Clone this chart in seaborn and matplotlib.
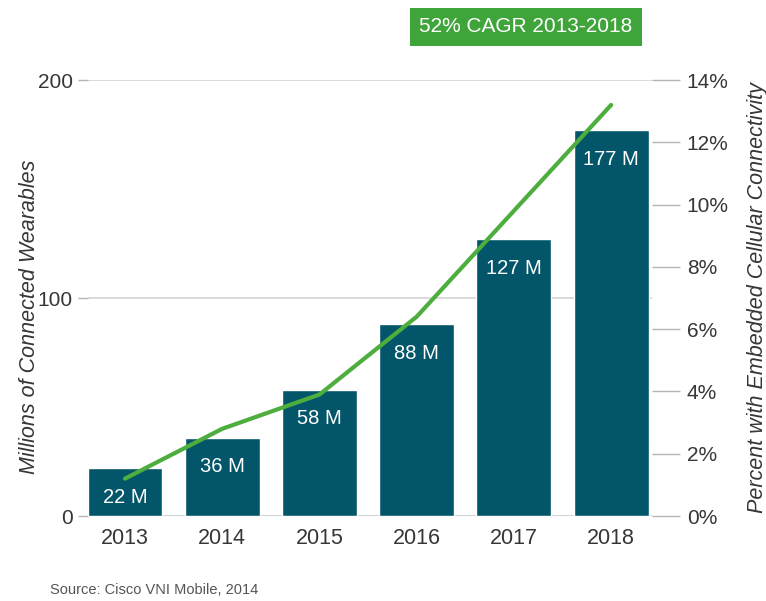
import numpy as np
import pandas as pd
import matplotlib
matplotlib.use("Agg")
import matplotlib.pyplot as plt
import seaborn as sns

# -----------------------------
# Data
# -----------------------------
years = ["2013", "2014", "2015", "2016", "2017", "2018"]
wearables_m = [22, 36, 58, 88, 127, 177]
cellular_pct = [1.2, 2.8, 3.9, 6.4, 9.8, 13.2]
bar_labels = ["22 M", "36 M", "58 M", "88 M", "127 M", "177 M"]

bar_color = "#03566a"
line_color = "#4dad3d"
box_color = "#3fa53a"
gray = "#b5b5b5"
text_color = "#363636"

sns.set_style("white")
plt.rcParams["font.family"] = ["Liberation Sans", "DejaVu Sans"]

df = pd.DataFrame({"year": years, "wearables": wearables_m, "pct": cellular_pct})

fig = plt.figure(figsize=(7.66, 6.01), dpi=100)
# axes box: x 88..652 px, y 80..516 px
ax = fig.add_axes([88 / 766, 1 - 516 / 601, 564 / 766, 436 / 601])

# -----------------------------
# Bars
# -----------------------------
sns.barplot(data=df, x="year", y="wearables", color=bar_color, saturation=1,
            width=0.77, ax=ax, zorder=2)
ax.set_ylim(0, 200)
ax.set_xlim(-0.38, 5.42)
ax.set_yticks([0, 100, 200])
ax.yaxis.grid(True, color="#d3d3d3", linewidth=1.2, zorder=0)
ax.set_axisbelow(True)
for s in ax.spines.values():
    s.set_visible(False)
ax.axhline(0, color=gray, linewidth=1, zorder=1)
ax.tick_params(axis="y", length=7, width=1, color=gray, pad=4,
               labelsize=15, labelcolor=text_color, left=True)
ax.tick_params(axis="x", length=0, pad=9, labelsize=15.5, labelcolor=text_color)
ax.set_xlabel("")
ax.set_ylabel("Millions of Connected Wearables", fontsize=15.5, style="italic",
              color=text_color)
ax.yaxis.label.set_va("center")
ax.yaxis.set_label_coords((30 - 88) / 564, (516 - 317) / 436)

for i, (v, lab) in enumerate(zip(wearables_m, bar_labels)):
    ax.annotate(lab, (i, v), xytext=(0, -21), textcoords="offset points",
                ha="center", va="center", color="white", fontsize=14.5)

# -----------------------------
# Line (right axis)
# -----------------------------
ax2 = ax.twinx()
sns.lineplot(x=np.arange(len(years)), y=cellular_pct, color=line_color,
             linewidth=3, ax=ax2, zorder=3)
ax2.set_ylim(0, 14)
ax2.set_yticks(range(0, 15, 2))
ax2.set_yticklabels([f"{t}%" for t in range(0, 15, 2)])
for s in ax2.spines.values():
    s.set_visible(False)
ax2.tick_params(axis="y", length=20, width=1, color=gray, pad=5,
                labelsize=15, labelcolor=text_color, right=True)
ax2.set_ylabel("Percent with Embedded Cellular Connectivity", fontsize=15.5,
               style="italic", color=text_color)
ax2.yaxis.label.set_va("center")
ax2.yaxis.set_label_coords((757 - 88) / 564, (516 - 298) / 436)

# -----------------------------
# Annotations
# -----------------------------
fig.text(526 / 766, 1 - 27 / 601, "52% CAGR 2013-2018", ha="center", va="center",
         color="white", fontsize=15,
         bbox=dict(boxstyle="square,pad=0.45", facecolor=box_color, edgecolor="none"))
fig.text(50 / 766, 1 - 590 / 601, "Source: Cisco VNI Mobile, 2014", ha="left",
         va="center", color="#555555", fontsize=10.5)

fig.savefig("out.png", dpi=100)
